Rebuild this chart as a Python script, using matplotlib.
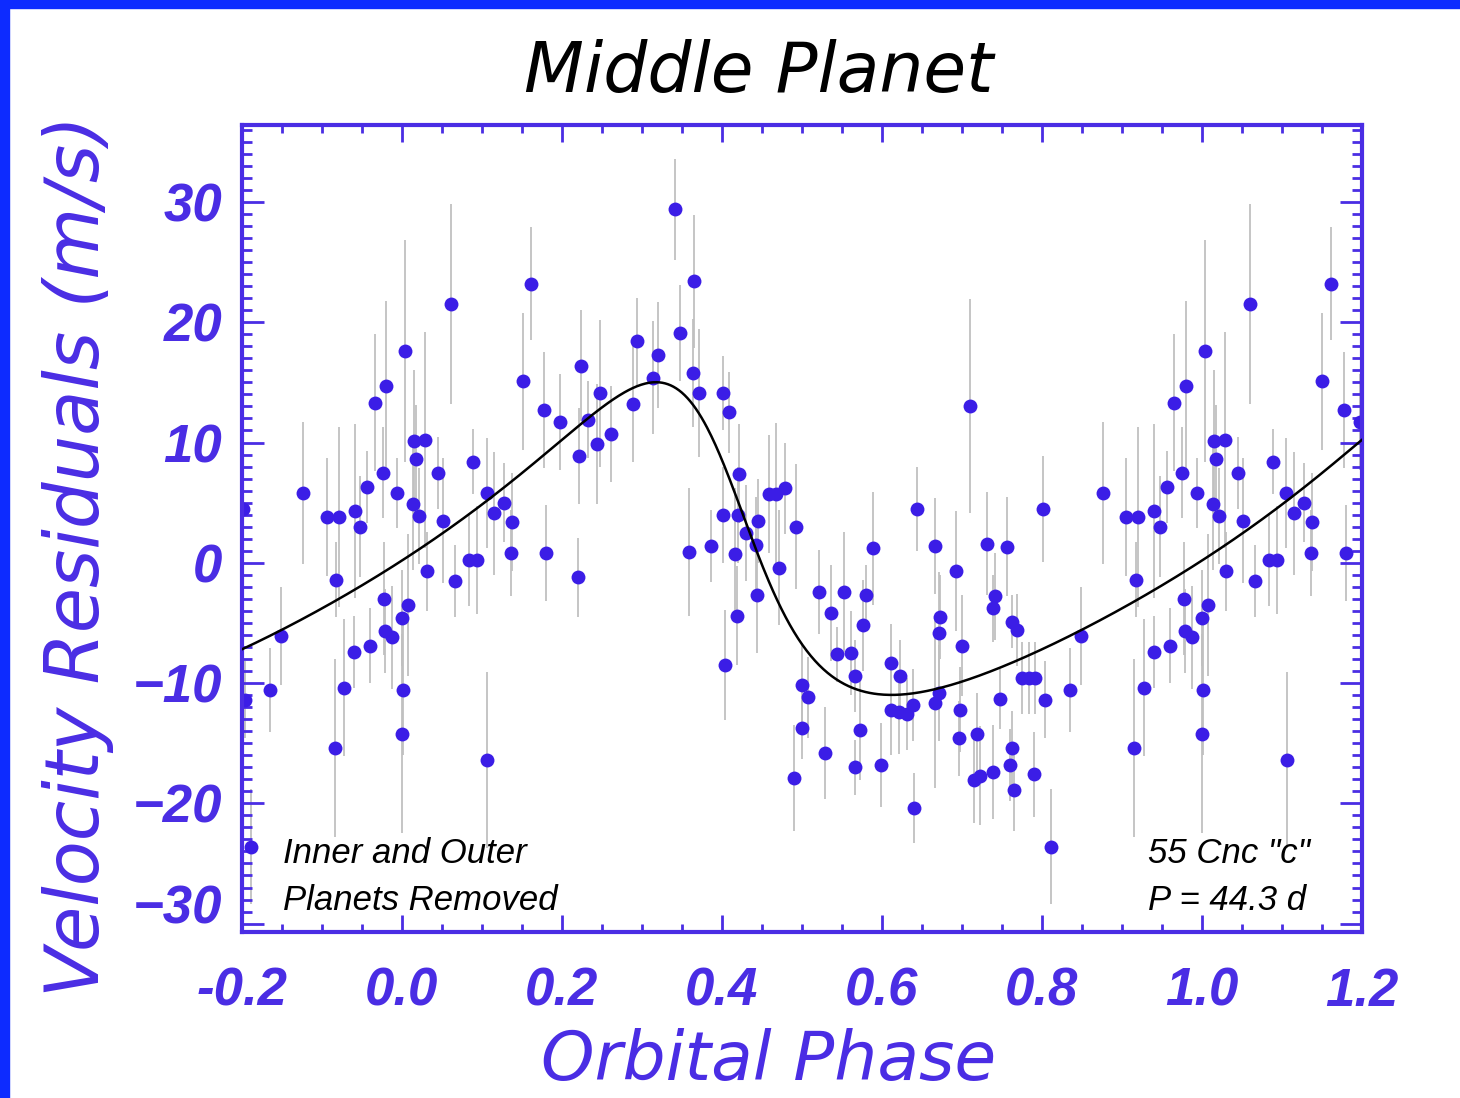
import numpy as np
import matplotlib
matplotlib.use("Agg")
import matplotlib.pyplot as plt
from matplotlib.patches import Rectangle
from matplotlib.ticker import MultipleLocator

# residuals folded on the 44.3 d period (inner and outer planets removed)
phase = [0.802, 0.804, 0.812, 0.835, 0.849, 0.877, 0.906, 0.916, 0.918, 0.921,
         0.928, 0.940, 0.941, 0.948, 0.957, 0.960, 0.966, 0.976, 0.978, 0.979,
         0.980, 0.988, 0.994,
         0.000, 0.000, 0.002, 0.004, 0.008, 0.014, 0.015, 0.018, 0.022, 0.029,
         0.031, 0.045, 0.052, 0.061, 0.067, 0.084, 0.089, 0.094, 0.106, 0.107,
         0.115, 0.128, 0.137, 0.138, 0.151, 0.162, 0.178, 0.180, 0.198, 0.220,
         0.221, 0.224, 0.233, 0.244, 0.248, 0.262, 0.289, 0.294, 0.314, 0.320,
         0.341, 0.348, 0.359, 0.364, 0.365, 0.372, 0.386, 0.401, 0.402, 0.404,
         0.409, 0.416, 0.419, 0.420, 0.422, 0.430, 0.443, 0.444, 0.445, 0.459,
         0.468, 0.471, 0.479, 0.490, 0.493, 0.500, 0.500, 0.508, 0.522, 0.529,
         0.537, 0.544, 0.553, 0.561, 0.567, 0.567, 0.573, 0.576, 0.580, 0.589,
         0.599, 0.611, 0.612, 0.622, 0.623, 0.632, 0.639, 0.640, 0.644, 0.666,
         0.667, 0.671, 0.671, 0.673, 0.693, 0.697, 0.698, 0.700, 0.710, 0.716,
         0.719, 0.723, 0.732, 0.739, 0.739, 0.742, 0.748, 0.757, 0.760, 0.763,
         0.763, 0.765, 0.769, 0.775, 0.784, 0.791, 0.792]
vel = [4.5, -11.4, -23.6, -10.6, -6.1, 5.8, 3.8, -15.4, -1.4, 3.8,
       -10.4, -7.4, 4.3, 3.0, 6.3, -6.9, 13.3, 7.5, -3.0, -5.7,
       14.7, -6.2, 5.8,
       -4.6, -14.2, -10.6, 17.6, -3.5, 4.9, 10.1, 8.6, 3.9, 10.2,
       -0.7, 7.5, 3.5, 21.5, -1.5, 0.2, 8.4, 0.2, 5.8, -16.4,
       4.1, 5.0, 0.8, 3.4, 15.1, 23.2, 12.7, 0.8, 11.7, -1.2,
       8.9, 16.4, 11.9, 9.9, 14.1, 10.7, 13.2, 18.4, 15.4, 17.3,
       29.4, 19.1, 0.9, 15.8, 23.4, 14.1, 1.4, 14.1, 4.0, -8.5,
       12.5, 0.7, -4.4, 4.0, 7.4, 2.5, 1.5, -2.7, 3.5, 5.7,
       5.7, -0.4, 6.2, -17.9, 3.0, -10.2, -13.7, -11.2, -2.4, -15.8,
       -4.2, -7.6, -2.4, -7.5, -9.4, -17.0, -13.9, -5.2, -2.7, 1.2,
       -16.8, -12.2, -8.3, -12.4, -9.4, -12.6, -11.8, -20.4, 4.5, -11.7,
       1.4, -5.8, -10.8, -4.5, -0.7, -14.6, -12.2, -6.9, 13.0, -18.1,
       -14.2, -17.7, 1.6, -3.8, -17.4, -2.8, -11.3, 1.35, -16.8, -4.9,
       -15.4, -18.9, -5.6, -9.6, -9.6, -17.6, -9.6]
err = [4.4, 3.2, 4.8, 3.5, 4.1, 5.9, 4.9, 7.4, 3.1, 7.5,
       5.7, 3.0, 7.2, 4.2, 3.0, 3.1, 5.7, 3.8, 4.7, 3.5,
       7.1, 4.3, 2.9,
       4.0, 8.3, 5.4, 9.2, 5.9, 5.5, 5.9, 4.5, 4.0, 9.0,
       3.3, 3.0, 5.2, 8.3, 3.0, 3.8, 2.7, 4.5, 4.6, 7.3,
       5.1, 3.3, 3.6, 4.1, 5.7, 4.7, 4.8, 4.0, 4.0, 3.3,
       4.0, 4.6, 3.2, 5.0, 6.1, 4.0, 4.8, 3.6, 4.7, 4.4,
       4.2, 4.0, 5.3, 4.5, 5.5, 5.3, 3.0, 3.1, 4.0, 4.6,
       3.4, 5.5, 4.1, 4.0, 4.1, 4.0, 4.0, 4.8, 3.5, 4.9,
       5.9, 4.8, 3.8, 4.4, 5.2, 3.5, 2.6, 3.4, 3.5, 3.8,
       4.0, 2.3, 5.0, 3.5, 3.0, 2.3, 4.2, 3.8, 2.5, 4.7,
       3.5, 3.8, 3.2, 3.5, 3.0, 3.0, 3.0, 2.9, 3.5, 7.0,
       4.0, 5.0, 4.0, 3.5, 5.0, 3.1, 3.5, 4.2, 8.9, 3.5,
       3.4, 4.1, 4.3, 2.8, 3.9, 3.6, 2.5, 4.1, 3.0, 2.2,
       3.1, 3.4, 3.0, 3.0, 3.0, 3.5, 3.0]

# orbit fit for 55 Cnc "c"
K_amp = 13.0       # m/s
ecc = 0.36
omega_deg = 64.5
phase_peri = 0.406

xticks = [-0.2, 0.0, 0.2, 0.4, 0.6, 0.8, 1.0, 1.2]
yticks = [-30, -20, -10, 0, 10, 20, 30]

axis_blue = '#4a2de4'
dot_blue = '#3b1de6'
frame_blue = '#0d2bff'


def kepler_velocity(ph):
    M = 2 * np.pi * (ph - phase_peri)
    E = M.copy()
    for _ in range(40):
        E = E - (E - ecc * np.sin(E) - M) / (1 - ecc * np.cos(E))
    nu = 2 * np.arctan2(np.sqrt(1 + ecc) * np.sin(E / 2),
                        np.sqrt(1 - ecc) * np.cos(E / 2))
    w = np.radians(omega_deg)
    return K_amp * (np.cos(nu + w) + ecc * np.cos(w))


ph = np.array(phase)
v = np.array(vel)
e = np.array(err)

# repeat the cycle so the plot runs from -0.2 to 1.2
ph_all = np.concatenate([ph - 1, ph, ph + 1])
v_all = np.tile(v, 3)
e_all = np.tile(e, 3)
keep = (ph_all > -0.21) & (ph_all < 1.21)
ph_all, v_all, e_all = ph_all[keep], v_all[keep], e_all[keep]

fig = plt.figure(figsize=(14.6, 10.98), dpi=100)
fig.patches.append(Rectangle((0, 0), 9 / 1460, 1, transform=fig.transFigure,
                             color=frame_blue, zorder=10))
fig.patches.append(Rectangle((0, 1 - 8 / 1098), 1, 8 / 1098,
                             transform=fig.transFigure, color=frame_blue, zorder=10))

ax = fig.add_axes([0.16555, 0.15118, 0.76712, 0.73497])

ax.errorbar(ph_all, v_all, yerr=e_all, fmt='none', ecolor='#c0c0c0',
            elinewidth=1.3, capsize=0, zorder=1)
ax.plot(ph_all, v_all, 'o', color=dot_blue, markersize=10, mec='none', zorder=2)

xfit = np.linspace(-0.2, 1.2, 800)
ax.plot(xfit, kepler_velocity(xfit), color='black', lw=1.8, zorder=3)

ax.set_xlim(-0.2, 1.2)
ax.set_ylim(-30.7, 36.4)

ax.set_xticks(xticks)
ax.set_xticklabels(['%.1f' % t for t in xticks])
ax.set_yticks(yticks)
ax.xaxis.set_minor_locator(MultipleLocator(0.05))
ax.yaxis.set_minor_locator(MultipleLocator(1))

for s in ax.spines.values():
    s.set_color(axis_blue)
    s.set_linewidth(3)

ax.tick_params(which='both', direction='in', top=True, right=True,
               color=axis_blue, width=2)
ax.tick_params(axis='x', which='major', length=12, pad=25)
ax.tick_params(axis='x', which='minor', length=5.5)
ax.tick_params(axis='y', which='major', length=16, pad=14)
ax.tick_params(axis='y', which='minor', length=7)

for lab in ax.get_xticklabels() + ax.get_yticklabels():
    lab.set_family('Liberation Sans')
    lab.set_weight('bold')
    lab.set_style('italic')
    lab.set_fontsize(38)
    lab.set_color(axis_blue)
ax.get_yticklabels()[0].set_va('baseline')

ax.set_xlabel('Orbital Phase', fontsize=49, style='italic', color=axis_blue,
              va='baseline')
ax.xaxis.set_label_coords(0.4706, -0.1835)
ax.set_ylabel('Velocity Residuals (m/s)', fontsize=53, style='italic',
              color=axis_blue, va='bottom')
ax.yaxis.set_label_coords(-0.114, 0.466)

ax.text(0.4613, 1.0409, 'Middle Planet', transform=ax.transAxes,
        fontsize=50, style='italic', ha='center', va='baseline')

note = dict(transform=ax.transAxes, fontsize=25, family='Liberation Sans',
            style='italic', va='baseline', color='black')
ax.text(0.0369, 0.0855, 'Inner and Outer', **note)
ax.text(0.0369, 0.0273, 'Planets Removed', **note)
ax.text(0.8092, 0.0855, '55 Cnc "c"', **note)
ax.text(0.8092, 0.0273, 'P = 44.3 d', **note)

fig.savefig('out.png', dpi=100)
